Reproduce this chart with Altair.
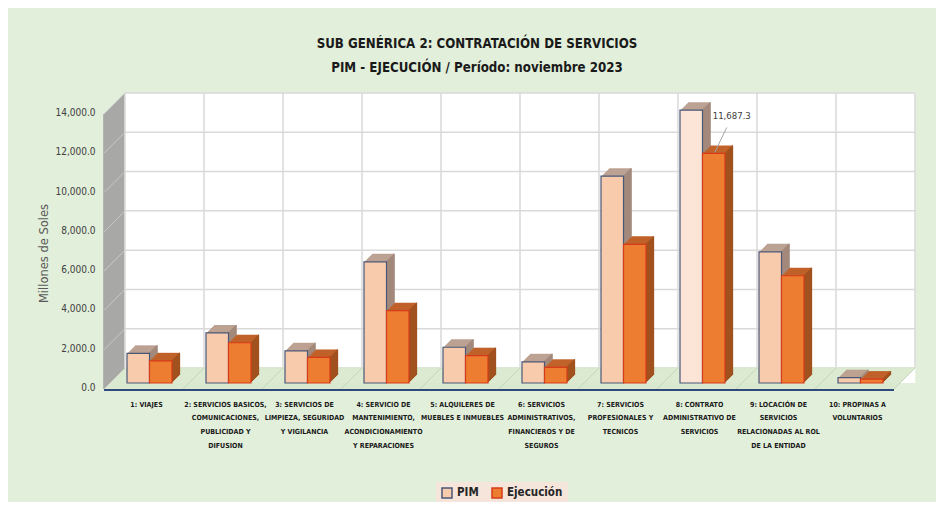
import altair as alt
import pandas as pd

categories = [
    "1: VIAJES",
    "2: SERVICIOS BASICOS,\nCOMUNICACIONES,\nPUBLICIDAD Y\nDIFUSION",
    "3: SERVICIOS DE\nLIMPIEZA, SEGURIDAD\nY VIGILANCIA",
    "4: SERVICIO DE\nMANTENIMIENTO,\nACONDICIONAMIENTO\nY REPARACIONES",
    "5: ALQUILERES DE\nMUEBLES E INMUEBLES",
    "6: SERVICIOS\nADMINISTRATIVOS,\nFINANCIEROS Y DE\nSEGUROS",
    "7: SERVICIOS\nPROFESIONALES Y\nTECNICOS",
    "8: CONTRATO\nADMINISTRATIVO DE\nSERVICIOS",
    "9: LOCACIÓN DE\nSERVICIOS\nRELACIONADAS AL ROL\nDE LA ENTIDAD",
    "10: PROPINAS A\nVOLUNTARIOS",
]
pim = [1510, 2550, 1640, 6170, 1820, 1080, 10530, 13890, 6680, 270]
ejecucion = [1130, 2050, 1300, 3680, 1390, 800, 7060, 11687.3, 5460, 200]
series = ["PIM", "Ejecución"]
y_ticks = [0, 2000, 4000, 6000, 8000, 10000, 12000, 14000]
title_lines = ["SUB GENÉRICA 2: CONTRATACIÓN DE SERVICIOS",
               "PIM - EJECUCIÓN / Período:  noviembre 2023"]

rows = []
for c, p, e in zip(categories, pim, ejecucion):
    rows.append({"cat": c, "series": series[0], "value": p})
    rows.append({"cat": c, "series": series[1], "value": e})
df = pd.DataFrame(rows)
one = pd.DataFrame({"a": [0]})
ticks_df = pd.DataFrame({"t": y_ticks})
cats_df = pd.DataFrame({"cat": categories})

COND = "Liberation Sans Narrow, DejaVu Sans Condensed, Roboto Condensed, sans-serif"
W, H = 790, 275
STEP = W / len(categories)
HALF = STEP / 2
BW = 22.5           # bar width
D = 8               # bar depth
FRONT, BACK = -6, 15  # wall depth offsets

XS = alt.Scale(domain=categories, paddingInner=0, paddingOuter=0)
YS = alt.Scale(domain=[0, 14000], nice=False)
X_AX = alt.Axis(title=None, labelAngle=0, domain=False, ticks=False, grid=False,
                labelExpr="split(datum.label, '\\n')", labelFont=COND,
                labelFontSize=7, labelFontWeight="bold", labelColor="#1A1A1A",
                labelPadding=17, labelOffset=-3, labelLineHeight=13.7, labelLimit=0)
Y_AX = alt.Axis(values=y_ticks, format=",.1f", grid=False, domain=False, ticks=False,
                labelPadding=15, labelOffset=4.5, labelFont=COND, labelFontSize=10,
                labelColor="#404040", title="Millones de Soles", titleX=-65.5,
                titleY=145, titleAngle=-90, titleFont="DejaVu Sans", titleFontSize=11.5,
                titleFontWeight="normal", titleColor="#595959", titleAlign="center",
                titleBaseline="middle")

X_CAT = alt.X("cat:N", scale=XS, axis=X_AX)
Y_VAL = alt.Y("value:Q", scale=YS, axis=Y_AX)
IS8 = "indexof(datum.cat, '8:') == 0"


def xd(c):
    return alt.XDatum(c, type="nominal", scale=XS, axis=X_AX)


def yd(v):
    return alt.YDatum(v, type="quantitative", scale=YS, axis=Y_AX)


layers = []

# side wall (gray)
for k in range(FRONT, BACK + 1):
    layers.append(alt.Chart(one).mark_rule(
        color="#A6A6A6", strokeWidth=1.6, xOffset=-HALF + k,
        yOffset=-k, y2Offset=-k).encode(
        x=xd(categories[0]), y=yd(0), y2=alt.Y2Datum(14000)))

# back wall (white)
layers.append(alt.Chart(cats_df).mark_bar(
    color="white", width=STEP + 0.5, xOffset=BACK, yOffset=-BACK, y2Offset=-BACK).encode(
    x=X_CAT, y=yd(14000)))

# back wall gridlines
layers.append(alt.Chart(ticks_df).mark_rule(
    color="#D9D9D9", strokeWidth=1.5, xOffset=-HALF + BACK, x2Offset=HALF + BACK,
    yOffset=-BACK, y2Offset=-BACK).encode(
    x=xd(categories[0]), x2=alt.X2Datum(categories[-1]),
    y=alt.Y("t:Q", scale=YS, axis=Y_AX)))
layers.append(alt.Chart(cats_df).mark_rule(
    color="#D9D9D9", strokeWidth=1.5, xOffset=-HALF + BACK,
    yOffset=-BACK, y2Offset=-BACK).encode(
    x=X_CAT, y=yd(0), y2=alt.Y2Datum(14000)))
layers.append(alt.Chart(one).mark_rule(
    color="#D9D9D9", strokeWidth=1.5, xOffset=HALF + BACK,
    yOffset=-BACK, y2Offset=-BACK).encode(
    x=xd(categories[-1]), y=yd(0), y2=alt.Y2Datum(14000)))

# floor
for k in range(FRONT, BACK + 1):
    layers.append(alt.Chart(one).mark_rule(
        color="#D8E8CE", strokeWidth=1.6, xOffset=-HALF + k, x2Offset=HALF + k,
        yOffset=-k).encode(
        x=xd(categories[0]), x2=alt.X2Datum(categories[-1]), y=yd(0)))

# floor diagonal lines
layers.append(alt.Chart(cats_df).mark_rule(
    color="#C4D6BA", strokeWidth=1, xOffset=-HALF + FRONT, x2Offset=-HALF + BACK,
    yOffset=-FRONT, y2Offset=-BACK).encode(
    x=X_CAT, x2=alt.X2("cat:N"), y=yd(0), y2=alt.Y2Datum(0)))
layers.append(alt.Chart(one).mark_rule(
    color="#C4D6BA", strokeWidth=1, xOffset=HALF + FRONT, x2Offset=HALF + BACK,
    yOffset=-FRONT, y2Offset=-BACK).encode(
    x=xd(categories[-1]), x2=alt.X2Datum(categories[-1]), y=yd(0), y2=alt.Y2Datum(0)))

# side wall diagonal lines
layers.append(alt.Chart(ticks_df).mark_rule(
    color="#C9C9C9", strokeWidth=1, xOffset=-HALF + FRONT, x2Offset=-HALF + BACK,
    yOffset=-FRONT, y2Offset=-BACK).encode(
    x=xd(categories[0]), x2=alt.X2Datum(categories[0]),
    y=alt.Y("t:Q", scale=YS, axis=Y_AX), y2=alt.Y2("t:Q")))

# floor front edge
layers.append(alt.Chart(one).mark_rule(
    color="#2F4A7A", strokeWidth=2, xOffset=-HALF + FRONT, x2Offset=HALF + FRONT,
    yOffset=-FRONT + 1).encode(
    x=xd(categories[0]), x2=alt.X2Datum(categories[-1]), y=yd(0)))

# 3D bars
top_col = {"PIM": "#BDA292", "Ejecución": "#C0622A"}
side_col = {"PIM": "#9E8678", "Ejecución": "#A0521E"}
shift = {"PIM": -BW / 2, "Ejecución": BW / 2}

fill_enc = alt.condition(
    "datum.series == 'PIM' && " + IS8,
    alt.value("#FCE4D6"),
    alt.Fill("series:N", scale=alt.Scale(domain=series, range=["#F8CBAD", "#ED7D31"]),
             legend=alt.Legend(title=None)))
stroke_enc = alt.Stroke("series:N", scale=alt.Scale(domain=series, range=["#4A5878", "#D83B1A"]),
                        legend=alt.Legend(title=None))

for s in series:
    base = alt.Chart(df).transform_filter(alt.datum.series == s)
    sx = shift[s]
    for k in range(D, 0, -1):
        layers.append(base.mark_bar(
            width=BW, color=top_col[s], xOffset=sx + k, yOffset=-k, y2Offset=-k).encode(
            x=X_CAT, y=Y_VAL))
    for k in range(1, D + 1):
        layers.append(base.mark_bar(
            width=1.3, color=side_col[s], xOffset=sx + BW / 2 + k - 0.5,
            yOffset=-k, y2Offset=-k).encode(x=X_CAT, y=Y_VAL))
    layers.append(base.mark_bar(width=BW, xOffset=sx, strokeWidth=1.2).encode(
        x=X_CAT, y=Y_VAL, fill=fill_enc, stroke=stroke_enc))

# data label with leader line
lab = alt.Chart(df).transform_filter(IS8 + " && datum.series == 'Ejecución'")
layers.append(lab.mark_rule(
    color="#A6A6A6", strokeWidth=1, xOffset=BW / 2 + 1, x2Offset=BW / 2 + 13,
    yOffset=-1, y2Offset=-26).encode(
    x=X_CAT, x2=alt.X2("cat:N"), y=Y_VAL, y2=alt.Y2("value:Q")))
layers.append(lab.mark_text(
    font=COND, fontSize=9.5, color="#404040", dx=BW / 2 + 18, dy=-37).encode(
    x=X_CAT, y=Y_VAL, text=alt.Text("value:Q", format=",.1f")))

chart = alt.layer(*layers).properties(
    width=W, height=H,
    title=alt.TitleParams(text=title_lines, anchor="middle", frame="group", dx=-28,
                          offset=17, font=COND, fontSize=13.2, fontWeight="bold",
                          color="#1A1A1A", lineHeight=24),
    autosize=alt.AutoSizeParams(type="none"),
    padding={"left": 102, "top": 100, "right": 36, "bottom": 119},
    background="#E2EFDA",
).configure_view(stroke=None).configure_legend(
    orient="none", legendX=326, legendY=374, direction="horizontal",
    symbolType="square", symbolSize=100, symbolStrokeWidth=1.5,
    labelFont=COND, labelFontSize=11.5, labelFontWeight="bold", labelColor="#262626",
    columnPadding=10, fillColor="#F5E5DA", padding=5,
)

chart.save("out.html", embed_options={"renderer": "svg", "actions": False})
